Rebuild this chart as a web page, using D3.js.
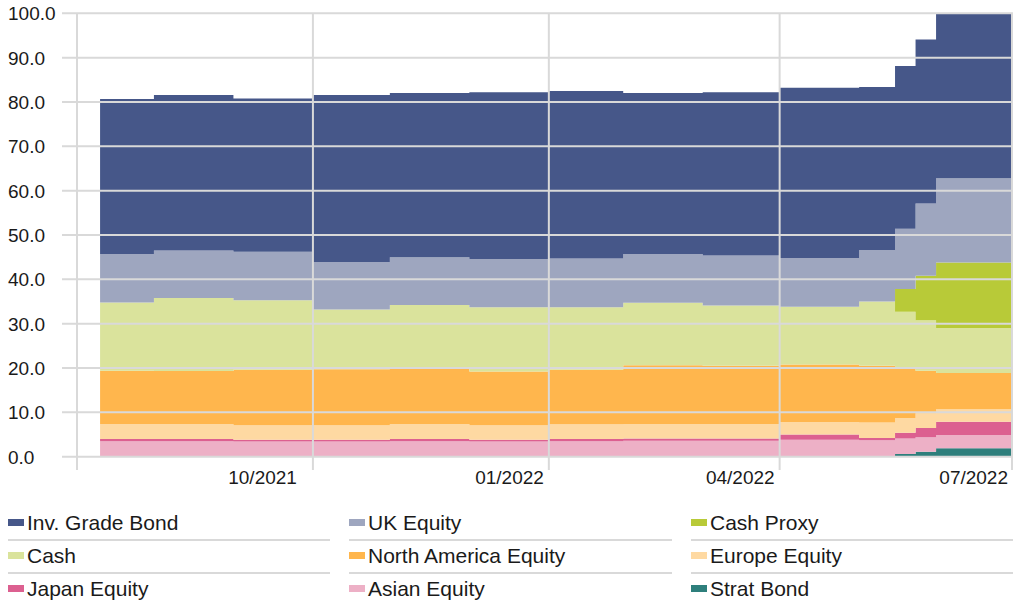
<!DOCTYPE html>
<html lang="en">
<head>
<meta charset="UTF-8">
<title>Asset allocation</title>
<script src="https://d3js.org/d3.v7.min.js"></script>
<style>
    body { margin: 0; background: #fff; font-family: "Liberation Sans", Arial, sans-serif; }
    svg text { fill: #1a1a1a; }
</style>
</head>
<body>
<svg id="chart" width="1013" height="604"></svg>
<script>
    // step start dates, last one is where the final step ends
    const dates = ["2021-07-10", "2021-07-31", "2021-08-31", "2021-10-01", "2021-10-31", "2021-12-01",
                   "2022-01-01", "2022-01-30", "2022-03-02", "2022-04-01", "2022-05-02", "2022-05-16",
                   "2022-05-24", "2022-06-01"];
    const endDate = "2022-07-01";

    const stratBond   = [0, 0, 0, 0, 0, 0, 0, 0, 0, 0, 0, 0.6, 1.1, 1.9];
    const asianEquity = [3.5, 3.5, 3.4, 3.4, 3.5, 3.4, 3.5, 3.6, 3.6, 3.8, 3.7, 3.5, 3.3, 3.0];
    const japanEquity = [0.5, 0.5, 0.4, 0.4, 0.5, 0.4, 0.5, 0.5, 0.5, 1.2, 0.5, 1.3, 2.1, 3.0];
    const europeEquity = [3.4, 3.4, 3.3, 3.3, 3.4, 3.3, 3.3, 3.3, 3.3, 2.8, 3.5, 3.3, 3.3, 2.8];
    const naEquity    = [12.0, 11.9, 12.5, 12.6, 12.8, 12.1, 12.3, 13.2, 13.1, 13.0, 12.8, 11.1, 9.6, 8.2];
    const cash        = [15.4, 16.5, 15.7, 13.5, 14.0, 14.5, 14.1, 14.1, 13.6, 13.0, 14.5, 12.9, 11.4, 10.1];
    const cashProxy   = [0, 0, 0, 0, 0, 0, 0, 0, 0, 0, 0, 5.1, 10.0, 14.8];
    const ukEquity    = [10.9, 10.7, 10.9, 10.7, 10.8, 10.9, 11.0, 11.0, 11.3, 11.0, 11.6, 13.6, 16.3, 19.0];
    const igBond      = [35.0, 35.1, 34.6, 37.7, 37.0, 37.6, 37.8, 36.3, 36.8, 38.4, 36.8, 36.7, 37.0, 37.2];

    const yTicks = [0, 10, 20, 30, 40, 50, 60, 70, 80, 90, 100];
    const xTicks = ["2021-10-01", "2022-01-01", "2022-04-01", "2022-07-01"];

    // bottom to top
    const series = [
        { key: "Strat Bond", values: stratBond, color: "#2e7f7c" },
        { key: "Asian Equity", values: asianEquity, color: "#edb0c6" },
        { key: "Japan Equity", values: japanEquity, color: "#dc6090" },
        { key: "Europe Equity", values: europeEquity, color: "#fed9a2" },
        { key: "North America Equity", values: naEquity, color: "#ffb64d" },
        { key: "Cash", values: cash, color: "#dae39c" },
        { key: "Cash Proxy", values: cashProxy, color: "#b8ca38" },
        { key: "UK Equity", values: ukEquity, color: "#9ea6bf" },
        { key: "Inv. Grade Bond", values: igBond, color: "#465789" }
    ];
    // legend order, row by row
    const legendOrder = ["Inv. Grade Bond", "UK Equity", "Cash Proxy",
                         "Cash", "North America Equity", "Europe Equity",
                         "Japan Equity", "Asian Equity", "Strat Bond"];

    const parse = d3.timeParse("%Y-%m-%d");
    const allDates = dates.concat([endDate]).map(parse);
    const rows = allDates.map((d, i) => {
        const j = Math.min(i, dates.length - 1);
        const r = { date: d };
        series.forEach(s => r[s.key] = s.values[j]);
        return r;
    });

    const svg = d3.select("#chart");
    const x = d3.scaleTime().domain([parse("2021-07-01"), parse(endDate)]).range([77, 1013]);
    const y = d3.scaleLinear().domain([0, 100]).range([456.7, 13.3]);

    const stack = d3.stack().keys(series.map(s => s.key));
    const stacked = stack(rows);

    const area = d3.area()
        .curve(d3.curveStepAfter)
        .x(d => x(d.data.date))
        .y0(d => y(d[0]))
        .y1(d => y(d[1]));

    svg.append("g").selectAll("path")
        .data(stacked)
        .join("path")
        .attr("fill", (d, i) => series[i].color)
        .attr("d", area);

    // grid on top of the areas
    const grid = svg.append("g").attr("stroke", "#d9d9d9").attr("stroke-width", 2);
    grid.selectAll(".hl").data(yTicks).join("line")
        .attr("x1", 62).attr("x2", 1013)
        .attr("y1", d => y(d)).attr("y2", d => y(d));
    grid.append("line")
        .attr("x1", 77).attr("x2", 77).attr("y1", y(100)).attr("y2", 470);
    grid.selectAll(".vl").data(xTicks.map(parse)).join("line")
        .attr("x1", d => Math.min(x(d), 1012)).attr("x2", d => Math.min(x(d), 1012))
        .attr("y1", y(100)).attr("y2", 470);

    svg.append("g").selectAll("text").data(yTicks).join("text")
        .attr("x", 8).attr("y", d => y(d) + 7)
        .attr("font-size", 19)
        .text(d => d3.format(".1f")(d));

    const fmt = d3.timeFormat("%m/%Y");
    svg.append("g").selectAll("text").data(xTicks.map(parse)).join("text")
        .attr("x", (d, i) => x(d) - (i === 0 ? 16 : 5)).attr("y", 484)
        .attr("text-anchor", "end")
        .attr("font-size", 19)
        .text(d => fmt(d));

    // legend
    const colX = [8, 349, 691];
    const colW = [322, 323, 322];
    const leg = svg.append("g");
    legendOrder.forEach((k, i) => {
        const s = series.find(t => t.key === k);
        const c = i % 3, r = Math.floor(i / 3);
        const g = leg.append("g").attr("transform", `translate(${colX[c]},${523 + r * 33})`);
        g.append("rect").attr("x", 0).attr("y", -4).attr("width", 16).attr("height", 7).attr("fill", s.color);
        g.append("text").attr("x", 19).attr("y", 7).attr("font-size", 21).text(k);
        g.append("line").attr("x1", 0).attr("x2", colW[c]).attr("y1", 17).attr("y2", 17)
            .attr("stroke", "#d9d9d9").attr("stroke-width", 2);
    });
</script>
</body>
</html>
